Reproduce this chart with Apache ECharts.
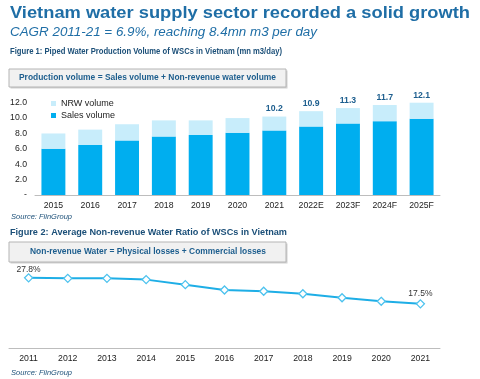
<!DOCTYPE html>
<html><head><meta charset="utf-8">
<script src="https://cdn.jsdelivr.net/npm/echarts@6/dist/echarts.min.js"></script>
<style>html,body{margin:0;padding:0;background:#fff}#c{width:480px;height:379px}</style>
</head><body><div id="c"></div>
<script>
var barCats = ['2015','2016','2017','2018','2019','2020','2021','2022E','2023F','2024F','2025F'];
var salesVol = [6.0, 6.5, 7.1, 7.6, 7.8, 8.1, 8.4, 8.9, 9.3, 9.6, 9.9];
var nrwVol = [2.0, 2.0, 2.1, 2.1, 1.9, 1.9, 1.8, 2.0, 2.0, 2.1, 2.2];
var totalLabels = ['', '', '', '', '', '', '10.2', '10.9', '11.3', '11.7', '12.1'];
var barTicks = [0, 2, 4, 6, 8, 10, 12];
var lineCats = ['2011','2012','2013','2014','2015','2016','2017','2018','2019','2020','2021'];
var nrwRatio = [27.8, 27.6, 27.6, 27.1, 25.1, 23.0, 22.5, 21.5, 19.9, 18.5, 17.5];
var lineLabels = ['27.8%', '', '', '', '', '', '', '', '', '', '17.5%'];

var F = '"Liberation Sans", Arial, sans-serif';
var navy = '#1d5e8e';
var chart = echarts.init(document.getElementById('c'), null, {renderer: 'canvas'});

var mctx = document.createElement('canvas').getContext('2d');
function fitText(text, font, x, y, targetW, fill, center) {
  mctx.font = font;
  var w = mctx.measureText(text).width;
  var s = targetW / w;
  var left = center ? x - targetW / 2 : x;
  return {type: 'text', x: left, y: y, scaleX: s, scaleY: 1,
    style: {text: text, font: font, fill: fill, align: 'left', verticalAlign: 'middle'}};
}

function boxGroup(y, h, text, cx, tw) {
  return {
    type: 'group', children: [
      {type: 'rect', shape: {x: 10.5, y: y + 1.5, width: 277, height: h}, style: {fill: '#cfcfcf'}, silent: true},
      {type: 'rect', shape: {x: 9, y: y, width: 277, height: h}, style: {fill: '#f1f1f1', stroke: '#b5b5b5', lineWidth: 1}},
      fitText(text, 'bold 8.5px ' + F, cx, y + h / 2, tw, navy, true)
    ]
  };
}

var lineData = nrwRatio.map(function (v, i) {
  return {value: v, label: {distance: i === 0 ? -1 : 1.5}};
});

var option = {
  animation: false,
  textStyle: {fontFamily: F},
  graphic: [
    fitText('Vietnam water supply sector recorded a solid growth', 'bold 17px ' + F, 10, 13.5, 460, '#1f6ea6'),
    fitText('CAGR 2011-21 = 6.9%, reaching 8.4mn m3 per day', 'italic 12.5px ' + F, 10, 33, 307, '#1f6ea6'),
    fitText('Figure 1: Piped Water Production Volume of WSCs in Vietnam (mn m3/day)', 'bold 9.2px ' + F, 10, 51, 272, '#1b4f78'),
    boxGroup(69, 18, 'Production volume = Sales volume + Non-revenue water volume', 147.5, 257),
    fitText('Source: FiinGroup', 'italic 7.5px ' + F, 11, 217, 61, '#1b4f78'),
    fitText('Figure 2: Average Non-revenue Water Ratio of WSCs in Vietnam', 'bold 9.2px ' + F, 10, 232.5, 277, '#1b4f78'),
    boxGroup(242, 20, 'Non-revenue Water = Physical losses + Commercial losses', 148, 236),
    fitText('Source: FiinGroup', 'italic 7.5px ' + F, 11, 372.5, 61, '#1b4f78')
  ],
  legend: {
    orient: 'vertical', left: 46, top: 94, itemWidth: 5, itemHeight: 5, itemGap: 3,
    textStyle: {fontSize: 9, color: '#222', fontFamily: F},
    data: [{name: 'NRW volume', icon: 'rect'}, {name: 'Sales volume', icon: 'rect'}]
  },
  grid: [
    {left: 35, right: 40, top: 102.7, height: 92.3},
    {left: 9, right: 40, top: 272.3, height: 75.7}
  ],
  xAxis: [
    {type: 'category', gridIndex: 0, data: barCats,
     axisLine: {lineStyle: {color: '#bdbdbd'}}, axisTick: {show: false},
     axisLabel: {color: '#222', fontSize: 8.7, margin: 6, fontFamily: F, interval: 0}},
    {type: 'category', gridIndex: 1, data: lineCats,
     axisLine: {lineStyle: {color: '#bdbdbd'}}, axisTick: {show: false},
     axisLabel: {color: '#222', fontSize: 8.7, margin: 6, fontFamily: F, interval: 0}}
  ],
  yAxis: [
    {type: 'value', gridIndex: 0, min: barTicks[0], max: barTicks[barTicks.length - 1], interval: 2,
     axisLine: {show: false}, axisTick: {show: false}, splitLine: {show: false},
     axisLabel: {color: '#222', fontSize: 8.7, margin: 8, fontFamily: F,
       formatter: function (v) { return v === 0 ? '-' : v.toFixed(1); }}},
    {type: 'value', gridIndex: 1, min: 0, max: 30, show: false, splitLine: {show: false}}
  ],
  series: [
    {name: 'Sales volume', type: 'bar', stack: 'v', xAxisIndex: 0, yAxisIndex: 0, data: salesVol,
     barWidth: '65%', itemStyle: {color: '#00aeef'}},
    {name: 'NRW volume', type: 'bar', stack: 'v', xAxisIndex: 0, yAxisIndex: 0, data: nrwVol,
     barWidth: '65%', itemStyle: {color: '#c8edfb'},
     label: {show: true, position: 'top', distance: 3, color: navy, fontWeight: 'bold', fontSize: 8.7, fontFamily: F,
       formatter: function (p) { return totalLabels[p.dataIndex]; }}},
    {name: 'NRW ratio', type: 'line', xAxisIndex: 1, yAxisIndex: 1, data: lineData,
     symbol: 'diamond', symbolSize: 8, showAllSymbol: true,
     lineStyle: {color: '#1eaee6', width: 2},
     itemStyle: {color: '#ffffff', borderColor: '#4cc2ee', borderWidth: 1.3},
     label: {show: true, position: 'top', color: '#333', fontSize: 8.5, fontFamily: F,
       formatter: function (p) { return lineLabels[p.dataIndex]; }}}
  ]
};
chart.setOption(option);
</script>
</body></html>
